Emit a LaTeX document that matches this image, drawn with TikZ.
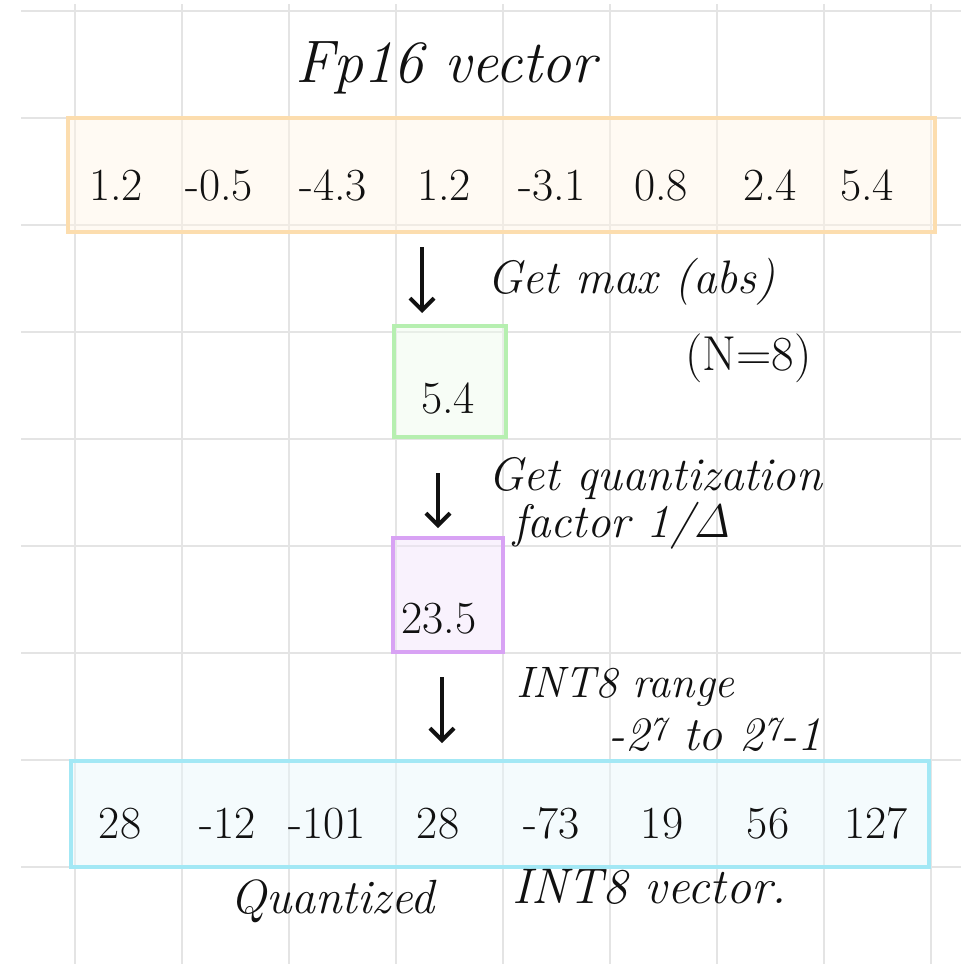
\documentclass[tikz,border=0pt]{standalone}
\usetikzlibrary{arrows.meta}
\definecolor{gridc}{HTML}{E4E4E4}
\definecolor{orB}{HTML}{FCDDAE}
\definecolor{orF}{HTML}{FFF4E6}
\definecolor{grB}{HTML}{B6EFB0}
\definecolor{grF}{HTML}{EEFBEC}
\definecolor{puB}{HTML}{D8A2F4}
\definecolor{puF}{HTML}{F3E4FB}
\definecolor{cyB}{HTML}{A3E8F5}
\definecolor{cyF}{HTML}{E8F7FC}
\definecolor{ink}{HTML}{111111}
\tikzset{
  gridline/.style={draw=gridc, line width=2.6pt},
  vecbox/.style={rectangle, inner sep=0pt, line width=3.2pt, fill opacity=0.45, text opacity=1},
  numtxt/.style={anchor=base, inner sep=0pt, text=ink, font=\fontsize{46}{52}\selectfont},
  lbl/.style={anchor=base west, inner sep=0pt, text=ink, font=\fontsize{47}{52}\selectfont\itshape},
  arr/.style={draw=ink, line width=3.8pt, -{Straight Barb[length=12pt, width=24pt, line width=4pt]}}
}
\begin{document}
\begin{tikzpicture}[x=1pt, y=-1pt]
\useasboundingbox (0,0) rectangle (961,964);
\fill[white] (0,0) rectangle (961,964);
% grid
\foreach \gx in {75,182,289,396,503,610,717,824,931}
  \draw[gridline] (\gx,4) -- (\gx,964);
\foreach \gy in {11,118,225,332,439,546,653,760,867}
  \draw[gridline] (21,\gy) -- (961,\gy);
% boxes
\node[vecbox, draw=orB, fill=orF, minimum width=867pt, minimum height=114pt] (fp) at (501.5,175) {};
\node[vecbox, draw=grB, fill=grF, minimum width=112pt, minimum height=111pt] (mx) at (450,381.5) {};
\node[vecbox, draw=puB, fill=puF, minimum width=110pt, minimum height=114pt] (qf) at (448,595) {};
\node[vecbox, draw=cyB, fill=cyF, minimum width=858pt, minimum height=106pt] (iv) at (500,814) {};
% title
\node[lbl, font=\fontsize{60}{66}\selectfont\itshape] (title) at (295,82) {Fp16 vector};
% fp16 values
\node[numtxt] (a1) at (116,200) {1.2};
\node[numtxt] (a2) at (219,200) {-0.5};
\node[numtxt] (a3) at (333,200) {-4.3};
\node[numtxt] (a4) at (444,200) {1.2};
\node[numtxt] (a5) at (552,200) {-3.1};
\node[numtxt] (a6) at (661,200) {0.8};
\node[numtxt] (a7) at (770,200) {2.4};
\node[numtxt] (a8) at (867,200) {5.4};
% max
\node[numtxt] (mv) at (448,413) {5.4};
\node[numtxt] (qv) at (439,633) {23.5};
% int8 values
\node[numtxt] (b1) at (120,838) {28};
\node[numtxt] (b2) at (228,838) {-12};
\node[numtxt] (b3) at (327,838) {-101};
\node[numtxt] (b4) at (438,838) {28};
\node[numtxt] (b5) at (552,838) {-73};
\node[numtxt] (b6) at (662,838) {19};
\node[numtxt] (b7) at (768,838) {56};
\node[numtxt] (b8) at (876,838) {127};
% labels
\node[lbl] (l1) at (487,293) {Get max (abs)};
\node[lbl, font=\fontsize{49}{54}\selectfont] (l2) at (685,370) {(N=8)};
\node[lbl] (l3) at (488,490) {Get quantization};
\node[lbl] (l4) at (513,537) {factor 1/Δ};
\node[lbl, font=\fontsize{44}{48}\selectfont\itshape] (l5) at (516,697) {INT8 range};
\node[lbl, font=\fontsize{48}{52}\selectfont\itshape] (l6) at (608,750) {-2\textsuperscript{7} to 2\textsuperscript{7}-1};
\node[lbl, font=\fontsize{48}{52}\selectfont\itshape] (l7) at (230,913) {Quantized};
\node[lbl, font=\fontsize{50}{54}\selectfont\itshape] (l8) at (512,903) {INT8 vector.};
% arrows
\coordinate (s1) at (422,247); \coordinate (e1) at (422,313);
\coordinate (s2) at (438,473); \coordinate (e2) at (438,528);
\coordinate (s3) at (442,677); \coordinate (e3) at (442,743);
\draw[arr] (s1) -- (e1);
\draw[arr] (s2) -- (e2);
\draw[arr] (s3) -- (e3);
\end{tikzpicture}
\end{document}
